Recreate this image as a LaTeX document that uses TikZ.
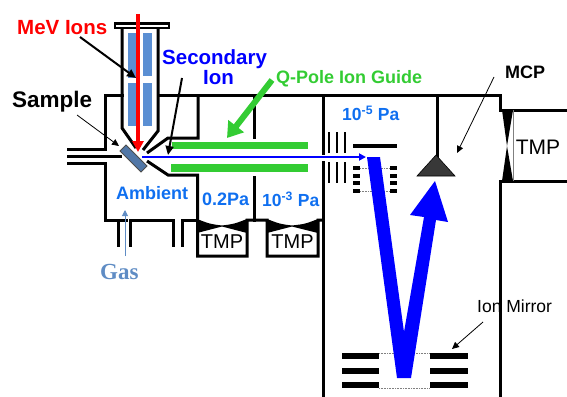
\documentclass[tikz,border=0pt]{standalone}
\usepackage{fontspec}
\setmainfont{Liberation Sans}
\newfontfamily\gasfont{Liberation Serif}
\usetikzlibrary{arrows.meta}
\definecolor{lblue}{HTML}{0F6FF0}
\definecolor{qgreen}{HTML}{33CC33}
\definecolor{coil}{HTML}{5B8FD3}
\definecolor{steel}{HTML}{5F8CC4}
\tikzset{
  wall/.style={line width=3pt,line cap=rect,line join=miter},
  lbl/.style={inner sep=0pt,font=\bfseries\fontsize{#1}{#1}\selectfont},
  plain/.style={inner sep=0pt,font=\fontsize{#1}{#1}\selectfont},
  coilbox/.style={fill=coil,draw=none},
  bar/.style={fill=black,draw=none},
  dots/.style={gray,line width=0.6pt,densely dotted},
  pointer/.style={line width=2pt,-{Triangle[length=9pt,width=8pt]}},
  thinptr/.style={line width=0.8pt,-{Triangle[length=7pt,width=6.5pt]}},
}
\begin{document}
\begin{tikzpicture}[x=1pt,y=-1pt]
\useasboundingbox (0,0) rectangle (567,396);
% coils
\fill[coilbox] (128,33) rectangle (136,78);
\fill[coilbox] (143,33) rectangle (152,76);
\fill[coilbox] (128,83) rectangle (136,126);
\fill[coilbox] (143,83) rectangle (152,126);
% ion source tube
\draw[line width=2.4pt] (115,23.5) rectangle (169,28);
\draw[wall,line cap=butt] (136,148) -- (122,128) -- (122,28);
\draw[wall,line cap=butt] (143,150) -- (158,131) -- (158,28);
% first chamber
\draw[wall] (122,95) -- (105,95) -- (105,149) -- (68,149);
\draw[wall] (68,156) -- (120,156);
\draw[wall] (68,163) -- (105,163) -- (105,220) -- (126,220);
\draw[wall] (118,220) -- (118,245);
\draw[wall] (130,245) -- (130,220) -- (173,220) -- (173,245);
\draw[wall] (182,245) -- (182,220) -- (197,220);
\draw[wall] (158,95) -- (500,95) -- (500,110) -- (567,110);
\draw[wall,line cap=butt] (147,153) -- (168,138) -- (198,138) -- (198,95);
\draw[wall,line cap=butt] (147,161) -- (168,175) -- (197.5,175) -- (197.5,256) -- (247,256) -- (247,220) -- (267,220) -- (267,256) -- (318,256) -- (318,220) -- (323,220);
\draw[wall] (254,95) -- (254,137);
\draw[wall] (254,177) -- (254,220);
\draw[wall] (323,95) -- (323,153);
\draw[wall] (323,162) -- (323,396);
\draw[wall] (500,396) -- (500,181) -- (567,181);
\draw[wall] (437,95) -- (437,156);
% pump bowties
\fill (197,219) .. controls (210,224) .. (222,225.5) .. controls (234,224) .. (247,219) -- (247,233) .. controls (234,229) .. (222,226.5) .. controls (210,229) .. (197,233) -- cycle;
\fill (267,219) .. controls (280,224) .. (292,225.5) .. controls (305,224) .. (318,219) -- (318,233) .. controls (305,229) .. (292,226.5) .. controls (280,229) .. (267,233) -- cycle;
\fill (502,110) -- (513,110) -- (507,146) -- (513,181) -- (502,181) -- (507,146) -- cycle;
\draw[line width=0.5pt,gray] (513,110) -- (513,181);
% guide bars
\fill[qgreen] (172,142) rectangle (308,149);
\fill[qgreen] (171,164) rectangle (308,172);
% sample
\filldraw[fill=steel!85!black,draw=black!70,line width=0.8pt] (120,151) -- (126,145) -- (147,166) -- (141,172) -- cycle;
% apertures
\foreach \x in {329,337,345}{
  \draw[line width=1.8pt] (\x,132) -- (\x,153);
  \draw[line width=1.8pt] (\x,162) -- (\x,183);
}
\fill[bar] (353,144.3) rectangle (397,148);
\foreach \y in {168,176,183,191}{
  \fill[bar] (353,\y-1.7) rectangle (360,\y+1.7);
  \fill[bar] (390,\y-1.7) rectangle (397,\y+1.7);
}
\draw[dots] (360,168) -- (390,168);
\draw[dots] (360,191) -- (390,191);
% mirror
\foreach \y in {356,371,385}{
  \fill[bar] (342,\y-3) rectangle (379,\y+3);
  \fill[bar] (430,\y-3) rectangle (468,\y+3);
}
\draw[dots] (379,353) -- (430,353);
\draw[dots] (379,388) -- (430,388);
% detector
\filldraw[fill=black!78,draw=black,line width=0.6pt] (417,176) -- (455,176) -- (436,155) -- cycle;
% ion path
\fill[blue] (367,157) -- (380,157) -- (404,332) -- (424,217) -- (410,215) -- (435,181) -- (448,222) -- (436,220) -- (411,378) -- (397,378) -- cycle;
\coordinate (ionstart) at (142,157);
\coordinate (ionend) at (366,157);
\draw[blue,line width=1.8pt,-{Triangle[length=7pt,width=7pt]}] (ionstart) -- (ionend);
% beam
\coordinate (beamtop) at (138,14);
\coordinate (beamtip) at (138,152);
\draw[red,line width=3.2pt,-{Triangle[length=11pt,width=11pt]}] (beamtop) -- (beamtip);
% texts
\node[lbl=20.5,red,anchor=west] (mev) at (17,28) {MeV Ions};
\node[lbl=20.5,blue,anchor=west] (sec) at (162,59.5) {Secondary};
\node[lbl=20.5,blue,anchor=west] (secb) at (203,78) {Ion};
\node[lbl=22.5,anchor=west] (sample) at (12,102) {Sample};
\node[lbl=18,qgreen,anchor=west] (qpole) at (276,79) {Q-Pole Ion Guide};
\node[lbl=17.5,lblue,anchor=west] (p5) at (342,113.5) {10\textsuperscript{-5} Pa};
\node[lbl=18,lblue,anchor=west] (amb) at (116,193) {Ambient};
\node[lbl=18,lblue,anchor=west] (p2) at (202,199) {0.2Pa};
\node[lbl=17.5,lblue,anchor=west] (p3) at (262,199) {10\textsuperscript{-3} Pa};
\node[plain=20] (t1) at (222,241.5) {TMP};
\node[plain=20] (t2) at (292.5,241.5) {TMP};
\node[plain=21] (t3) at (538,147) {TMP};
\node[inner sep=0pt,text=steel,font=\gasfont\bfseries\fontsize{23}{23}\selectfont,anchor=west] (gas) at (100,272) {Gas};
\node[lbl=18,anchor=west] (mcp) at (505,72) {MCP};
\node[plain=17.5,anchor=west] (mirror) at (477,306) {Ion Mirror};
% pointers
\coordinate (p1a) at (80,37); \coordinate (p1b) at (136,78);
\draw[pointer] (p1a) -- (p1b);
\coordinate (p2a) at (182,78); \coordinate (p2b) at (168,155);
\draw[pointer] (p2a) -- (p2b);
\coordinate (p3a) at (77,115); \coordinate (p3b) at (119,146);
\draw[thinptr] (p3a) -- (p3b);
\coordinate (p4a) at (494,77); \coordinate (p4b) at (457,153);
\draw[thinptr] (p4a) -- (p4b);
\coordinate (p5a) at (483,322); \coordinate (p5b) at (452,349);
\draw[thinptr] (p5a) -- (p5b);
\coordinate (g1) at (272,80); \coordinate (g2) at (227,138);
\draw[qgreen,line width=6pt,-{Triangle[length=15pt,width=19pt]}] (g1) -- (g2);
\coordinate (gasa) at (125,256); \coordinate (gasb) at (125,210);
\draw[steel,line width=1pt,-{Triangle[length=6pt,width=6pt]}] (gasa) -- (gasb);
\end{tikzpicture}
\end{document}
